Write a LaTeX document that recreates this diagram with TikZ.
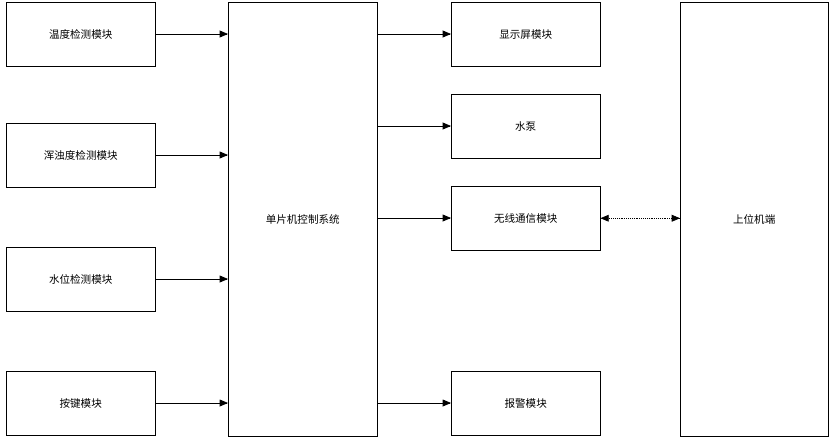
\documentclass[tikz,border=0pt]{standalone}
\usepackage{fontspec}
\setmainfont{Noto Sans CJK SC}
\usetikzlibrary{arrows}

\begin{document}
\begin{tikzpicture}[
    x=0.03cm, y=-0.03cm,
    box/.style={rectangle, draw, anchor=north west, minimum width=4.47cm, minimum height=1.92cm, align=center, font=\fontsize{9}{11}\selectfont, inner sep=0pt},
    tall/.style={box, minimum height=13.02cm},
    arrow/.style={-triangle 45, semithick}
]
\useasboundingbox (0,0) rectangle (836,442);

% Sensors
\node[box] (temp) at (6,2) {温度检测模块};
\node[box] (turb) at (6,123) {浑浊度检测模块};
\node[box] (level) at (6,247) {水位检测模块};
\node[box] (key) at (6,371) {按键模块};

% Controller
\node[tall] (mcu) at (228,2) {单片机控制系统};

% Outputs
\node[box] (lcd) at (451,2) {显示屏模块};
\node[box] (pump) at (451,94) {水泵};
\node[box] (wifi) at (451,186) {无线通信模块};
\node[box] (alarm) at (451,371) {报警模块};

% Host
\node[tall, minimum width=4.44cm] (host) at (680,2) {上位机端};

% Arrows
\foreach \n/\y in {temp/34, turb/155, level/279, key/403}
  \draw[arrow] (\n.east |- 0,\y) -- (mcu.west |- 0,\y);
\foreach \n/\y in {lcd/34, pump/126, wifi/218, alarm/403}
  \draw[arrow] (mcu.east |- 0,\y) -- (\n.west |- 0,\y);
\draw[triangle 45-triangle 45, semithick, densely dotted] (wifi.east) -- (host.west |- wifi.east);

\end{tikzpicture}
\end{document}
